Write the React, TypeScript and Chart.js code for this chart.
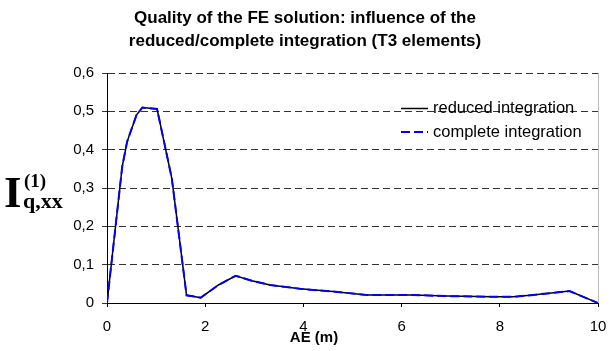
import React, { useEffect, useRef } from "react";
import { Chart, registerables } from "chart.js";

Chart.register(...registerables);

const TITLE_LINES = [
  "Quality of the FE solution: influence of the",
  "reduced/complete integration (T3 elements)",
];
const X_TITLE = "AE (m)";
const SERIES_NAMES = ["reduced integration", "complete integration"];

const xValues = [0, 0.31, 0.41, 0.6, 0.72, 1.02, 1.32, 1.62, 1.91, 2.27, 2.62, 2.95, 3.32, 3.93, 4.6, 5.29, 6.23, 6.92, 7.86, 8.27, 8.68, 9.42, 10];
const reduced = [0, 0.356, 0.421, 0.49, 0.51, 0.506, 0.325, 0.02, 0.014, 0.047, 0.071, 0.058, 0.047, 0.037, 0.03, 0.021, 0.021, 0.018, 0.016, 0.016, 0.021, 0.031, 0];
const complete = [0, 0.356, 0.421, 0.49, 0.51, 0.506, 0.325, 0.02, 0.014, 0.047, 0.071, 0.058, 0.047, 0.037, 0.03, 0.021, 0.021, 0.018, 0.016, 0.016, 0.021, 0.031, 0];

const xTicks = [0, 2, 4, 6, 8, 10];
const yTicks = [0, 0.1, 0.2, 0.3, 0.4, 0.5, 0.6];

const fmtY = (v: number) => (v === 0 ? "0" : v.toFixed(1).replace(".", ","));

const decorPlugin = {
  id: "decor",
  afterDraw(chart: any) {
    const ctx = chart.ctx;
    const area = chart.chartArea;
    ctx.save();
    // right edge of plot area
    ctx.strokeStyle = "#bbbbbb";
    ctx.lineWidth = 1;
    ctx.beginPath();
    ctx.moveTo(area.right + 0.5, area.top);
    ctx.lineTo(area.right + 0.5, area.bottom);
    ctx.stroke();

    // title
    ctx.fillStyle = "#000";
    ctx.textAlign = "center";
    ctx.textBaseline = "middle";
    ctx.font = "bold 17px 'Liberation Sans', Arial, sans-serif";
    ctx.fillText(TITLE_LINES[0], 305, 18);
    ctx.fillText(TITLE_LINES[1], 305, 41);

    // x axis title
    ctx.font = "bold 15px 'Liberation Sans', Arial, sans-serif";
    ctx.fillText(X_TITLE, 314, 338);

    // legend
    ctx.textAlign = "left";
    ctx.font = "16.5px 'Liberation Sans', Arial, sans-serif";
    ctx.strokeStyle = "#000";
    ctx.lineWidth = 1.5;
    ctx.beginPath();
    ctx.moveTo(401, 108.5);
    ctx.lineTo(428, 108.5);
    ctx.stroke();
    ctx.fillText(SERIES_NAMES[0], 433, 108);
    ctx.strokeStyle = "#0000ff";
    ctx.lineWidth = 2;
    ctx.setLineDash([9, 4]);
    ctx.beginPath();
    ctx.moveTo(401, 132);
    ctx.lineTo(428, 132);
    ctx.stroke();
    ctx.setLineDash([]);
    ctx.fillText(SERIES_NAMES[1], 433, 132);

    // y axis label
    ctx.textBaseline = "alphabetic";
    ctx.font = "bold 45px 'Liberation Serif', 'Times New Roman', serif";
    ctx.fillText("I", 4, 207);
    ctx.font = "bold 19px 'Liberation Serif', 'Times New Roman', serif";
    ctx.fillText("(1)", 24, 187);
    ctx.font = "bold 22px 'Liberation Serif', 'Times New Roman', serif";
    ctx.fillText("q,xx", 23, 208);
    ctx.restore();
  },
};

export default function App() {
  const ref = useRef<HTMLCanvasElement | null>(null);
  useEffect(() => {
    document.body.style.margin = "0";
    const canvas = ref.current!;
    const chart = new Chart(canvas, {
      type: "line",
      data: {
        datasets: [
          {
            label: SERIES_NAMES[1],
            data: xValues.map((x, i) => ({ x, y: complete[i] })),
            borderColor: "#0000ff",
            borderWidth: 2,
            borderDash: [9, 4],
            pointRadius: 0,
            tension: 0,
            order: 0,
          },
          {
            label: SERIES_NAMES[0],
            data: xValues.map((x, i) => ({ x, y: reduced[i] })),
            borderColor: "#000000",
            borderWidth: 1.5,
            pointRadius: 0,
            tension: 0,
            order: 1,
          },
        ],
      },
      options: {
        animation: false,
        responsive: false,
        layout: { padding: { top: 73, right: 13, left: 0, bottom: 0 } },
        plugins: {
          legend: { display: false },
          title: { display: false },
          tooltip: { enabled: false },
        },
        scales: {
          x: {
            type: "linear",
            min: 0,
            max: 10,
            afterFit: (s: any) => {
              s.height = 48;
              s.paddingLeft = 0;
              s.paddingRight = 0;
            },
            afterBuildTicks: (s: any) => {
              s.ticks = xTicks.map((v) => ({ value: v }));
            },
            ticks: {
              color: "#000",
              font: { family: "'Liberation Sans', Arial, sans-serif", size: 15 },
              padding: 11,
              maxRotation: 0,
            },
            grid: { drawOnChartArea: false, drawTicks: true, tickLength: 4, color: "#000" },
            border: { color: "#000", width: 1 },
          },
          y: {
            min: 0,
            max: 0.6,
            afterFit: (s: any) => {
              s.width = 107;
              s.paddingTop = 0;
              s.paddingBottom = 0;
            },
            afterBuildTicks: (s: any) => {
              s.ticks = yTicks.map((v) => ({ value: v }));
            },
            ticks: {
              color: "#000",
              font: { family: "'Liberation Sans', Arial, sans-serif", size: 15 },
              padding: 8,
              callback: (v: any) => fmtY(Number(v)),
            },
            grid: { color: "#333", drawTicks: true, tickLength: 5, lineWidth: 1 },
            border: { color: "#000", width: 1, dash: [7, 4] },
          },
        },
      },
      plugins: [decorPlugin],
    });
    return () => chart.destroy();
  }, []);
  return (
    <div style={{ position: "relative", width: 611, height: 351 }}>
      <canvas ref={ref} width={611} height={351} style={{ display: "block", width: 611, height: 351 }} />
    </div>
  );
}
